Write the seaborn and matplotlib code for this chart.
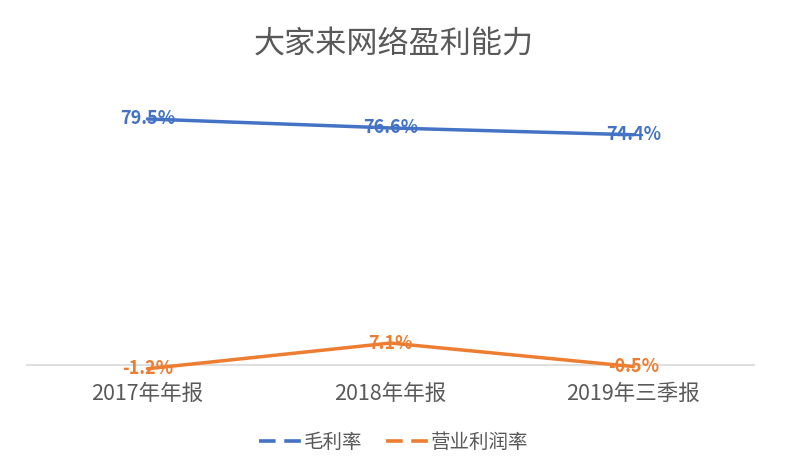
import matplotlib
matplotlib.use("Agg")
import matplotlib.pyplot as plt
from matplotlib.lines import Line2D
import seaborn as sns
import pandas as pd

categories = ["2017年年报", "2018年年报", "2019年三季报"]
gross_margin = [79.5, 76.6, 74.4]
op_margin = [-1.2, 7.1, -0.5]
series_names = ["毛利率", "营业利润率"]
title = "大家来网络盈利能力"

sns.set_style("white")
plt.rcParams['font.family'] = ['Noto Sans CJK SC', 'DejaVu Sans']

colors = ["#4472C4", "#ED7D31"]
df = pd.DataFrame({
    "cat": categories * 2,
    "val": gross_margin + op_margin,
    "series": [series_names[0]] * 3 + [series_names[1]] * 3,
})

fig = plt.figure(figsize=(7.87, 4.73), dpi=100)
ax = fig.add_axes([0.033, 0.1956, 0.926, 0.687])
sns.lineplot(data=df, x="cat", y="val", hue="series", palette=colors,
             sort=False, linewidth=2.5, ax=ax, legend=False)

ax.set_xlim(-0.5, 2.5)
ax.set_ylim(-5, 100)
ax.axhline(0, color="#D9D9D9", linewidth=1.2, zorder=0)

for vals, c in zip([gross_margin, op_margin], colors):
    for i, v in enumerate(vals):
        ax.text(i, v, f"{v:.1f}%", color=c, fontsize=13, fontweight="bold",
                ha="center", va="center", zorder=5)

ax.set_yticks([])
ax.set_xticks(range(len(categories)))
ax.set_xticklabels(categories, fontsize=15.5, color="#595959")
ax.tick_params(axis="x", length=0, pad=2)
ax.set_xlabel("")
ax.set_ylabel("")
for s in ax.spines.values():
    s.set_visible(False)

fig.text(0.5, 0.904, title, ha="center", va="center", fontsize=22.4, color="#595959")

handles = [Line2D([0], [0], color=c, linewidth=2.6, dashes=(4.6, 2.4)) for c in colors]
fig.legend(handles, series_names, loc="center", bbox_to_anchor=(0.5, 0.064),
           ncol=2, frameon=False, fontsize=14, handlelength=2.16,
           handletextpad=0.15, columnspacing=1.2, labelcolor="#595959")

fig.savefig("out.png", dpi=100, facecolor="white")
